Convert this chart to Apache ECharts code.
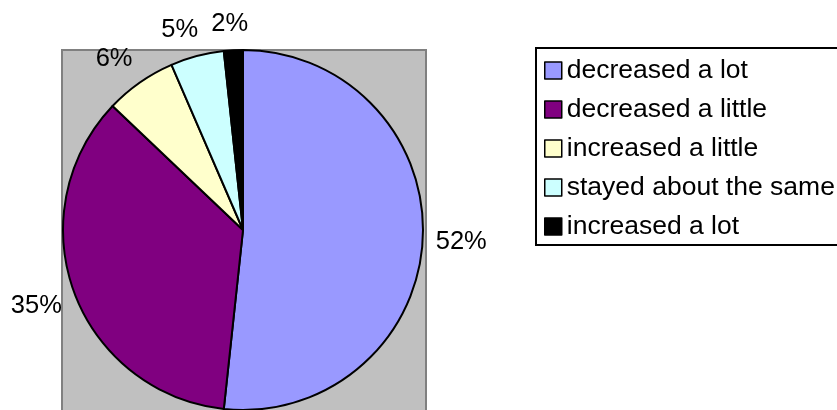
<!DOCTYPE html>
<html>
<head>
<meta charset="utf-8">
<script src="https://cdn.jsdelivr.net/npm/echarts@6/dist/echarts.min.js"></script>
<style>
  html, body { margin: 0; padding: 0; background: #fff; }
  #chart { width: 837px; height: 410px; }
</style>
</head>
<body>
<div id="chart"></div>
<script>
// ---- data ----
const categories = ['decreased a lot', 'decreased a little', 'increased a little', 'stayed about the same', 'increased a lot'];
const values = [51.7, 35.4, 6.4, 4.8, 1.7];
const colors = ['#9999FF', '#800080', '#FFFFCC', '#CCFFFF', '#000000'];

const FONT = '"Liberation Sans", Arial, sans-serif';
const LABEL_GAP = 13;

function clamp1(v) { return Math.max(-1, Math.min(1, v)); }

const chart = echarts.init(document.getElementById('chart'), null, { renderer: 'canvas' });

const option = {
  backgroundColor: '#ffffff',
  animation: false,
  graphic: [{
    type: 'rect',
    z: -10,
    silent: true,
    shape: { x: 62, y: 50, width: 364, height: 380 },
    style: { fill: '#C0C0C0', stroke: '#808080', lineWidth: 2 }
  }],
  legend: {
    orient: 'vertical',
    left: 536,
    top: 48,
    padding: [9, 20, 5, 8],
    backgroundColor: '#ffffff',
    borderColor: '#000000',
    borderWidth: 2,
    borderRadius: 0,
    itemWidth: 17,
    itemHeight: 17,
    itemGap: 12,
    icon: 'rect',
    itemStyle: { borderColor: '#000000', borderWidth: 1.5 },
    selectedMode: false,
    textStyle: { fontFamily: FONT, fontSize: 26.5, color: '#000000', lineHeight: 26 },
    data: categories
  },
  series: [{
    type: 'pie',
    center: [243, 230],
    radius: 180,
    startAngle: 90,
    clockwise: true,
    avoidLabelOverlap: false,
    emphasis: { disabled: true },
    itemStyle: { borderColor: '#000000', borderWidth: 2 },
    label: {
      show: true,
      position: 'outside',
      fontFamily: FONT,
      fontSize: 25.5,
      color: '#000000',
      formatter: function (p) { return Math.round(p.percent) + '%'; }
    },
    labelLine: { show: true, length: 12, length2: 0, lineStyle: { width: 0, opacity: 0 } },
    labelLayout: function (params) {
      const pts = params.labelLinePoints;
      if (!pts || pts.length < 2) return {};
      const p0 = pts[0], p1 = pts[1];
      let ux = p1[0] - p0[0], uy = p1[1] - p0[1];
      const len = Math.sqrt(ux * ux + uy * uy) || 1;
      ux /= len; uy /= len;
      const w = params.labelRect.width, h = params.labelRect.height;
      const ax = p0[0] + ux * LABEL_GAP, ay = p0[1] + uy * LABEL_GAP;
      return {
        x: ax + clamp1(3 * ux) * w / 2,
        y: ay + clamp1(2 * uy) * h / 2,
        align: 'center',
        verticalAlign: 'middle'
      };
    },
    data: categories.map(function (name, i) {
      return { name: name, value: values[i], itemStyle: { color: colors[i] } };
    })
  }]
};

chart.setOption(option);
</script>
</body>
</html>
